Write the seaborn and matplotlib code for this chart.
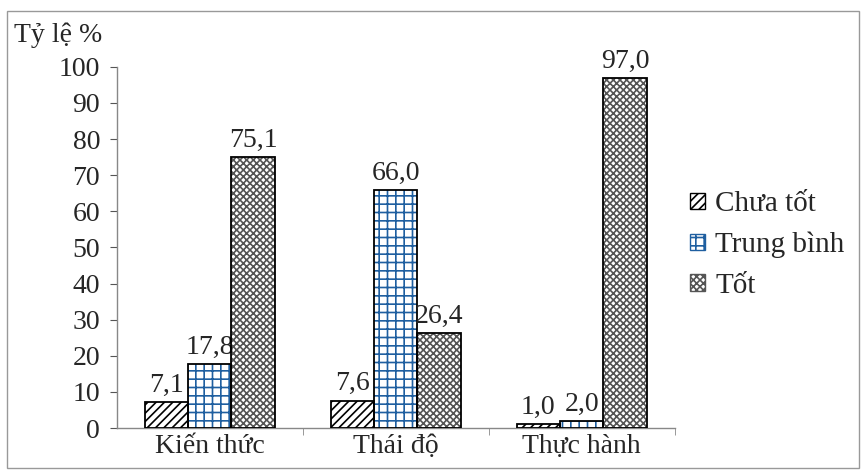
import matplotlib
matplotlib.use("Agg")
import matplotlib.pyplot as plt
import matplotlib.patches as mpatches
import seaborn as sns
import pandas as pd

categories = ["Kiến thức", "Thái độ", "Thực hành"]
groups = ["Chưa tốt", "Trung bình", "Tốt"]
chua_tot = [7.1, 7.6, 1.0]
trung_binh = [17.8, 66.0, 2.0]
tot = [75.1, 26.4, 97.0]
y_ticks = list(range(0, 101, 10))

df = pd.DataFrame({
    "cat": categories * 3,
    "group": [g for g in groups for _ in categories],
    "value": chua_tot + trung_binh + tot,
})

sns.set_style("white")
plt.rcParams["font.family"] = ["Liberation Serif", "DejaVu Serif"]
plt.rcParams["hatch.linewidth"] = 1.2
FS = 20

fig = plt.figure(figsize=(8.65, 4.74), dpi=100)
ax = fig.add_axes([0.135, 0.097, 0.645, 0.762])

sns.barplot(data=df, x="cat", y="value", hue="group", order=categories,
            hue_order=groups, palette=["white"] * 3, width=0.7,
            saturation=1, ax=ax, legend=False)

styles = {
    "Chưa tốt": ("////", "black"),
    "Trung bình": ("++", "#1f5fa0"),
    "Tốt": ("xxxxx", "#555555"),
}
for container, g in zip(ax.containers, groups):
    hatch, col = styles[g]
    for p in container:
        p.set_hatch(hatch)
        p.set_edgecolor(col)
        p.set_facecolor("white")
        p.set_linewidth(0)
        ax.add_patch(mpatches.Rectangle(p.get_xy(), p.get_width(), p.get_height(),
                                        fill=False, ec="black", lw=1.3, zorder=3))
    ax.bar_label(container, labels=[f"{v:.1f}".replace(".", ",") for v in container.datavalues],
                 padding=3, fontsize=FS)

ax.set_ylim(0, 100)
ax.set_xlim(-0.5, 2.5)
ax.set_yticks(y_ticks)
ax.tick_params(axis="y", labelsize=FS, length=5, direction="out", left=True, color="#555555", pad=7)
ax.tick_params(axis="x", labelsize=FS, length=0, pad=4)
ax.set_xticks([0.5, 1.5, 2.5], minor=True)
ax.tick_params(axis="x", which="minor", length=5, bottom=True, color="#888888")
ax.set_xlabel("")
ax.set_ylabel("")
sns.despine(ax=ax)
for s in ["left", "bottom"]:
    ax.spines[s].set_color("#888888")
    ax.spines[s].set_linewidth(1)

handles = [mpatches.Patch(facecolor="white", edgecolor=styles[g][1], hatch=styles[g][0], label=g)
           for g in groups]
fig.legend(handles=handles, loc="center left", bbox_to_anchor=(0.798, 0.483),
           frameon=False, fontsize=21, handlelength=0.5, handleheight=0.5,
           handletextpad=0.35, labelspacing=0.5, borderpad=0, borderaxespad=0)

fig.text(0.016, 0.925, "Tỷ lệ %", fontsize=FS, ha="left", va="center")
fig.add_artist(mpatches.Rectangle((0.008, 0.012), 0.985, 0.965, transform=fig.transFigure,
                                  fill=False, ec="#999999", lw=1))

fig.savefig("out.png", dpi=100)
